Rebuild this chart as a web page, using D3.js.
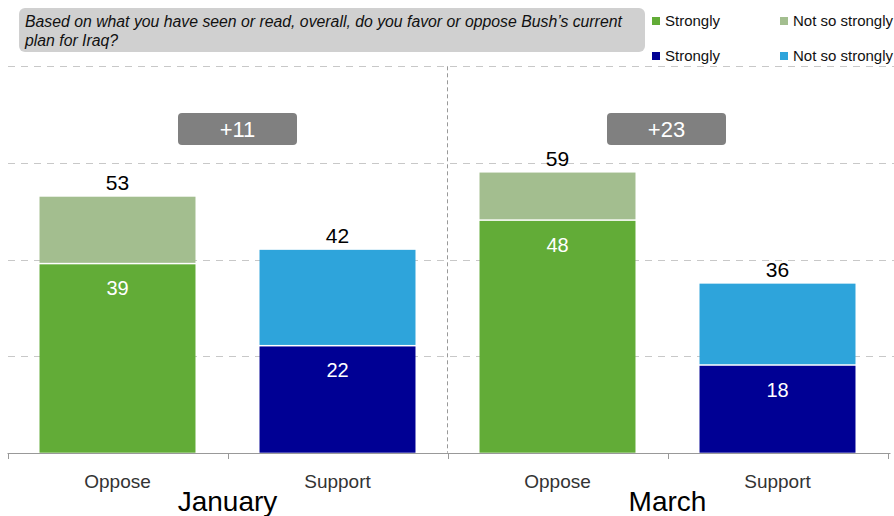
<!DOCTYPE html>
<html><head><meta charset="utf-8">
<script src="https://cdn.jsdelivr.net/npm/d3@7"></script>
<style>body{margin:0;background:#fff}svg{display:block}text{font-family:"Liberation Sans",Arial,sans-serif}</style>
</head><body><svg id="c" width="894" height="516"></svg>
<script>
const categories = ["Jan-Oppose","Jan-Support","Mar-Oppose","Mar-Support"];
const catLabels = ["Oppose","Support","Oppose","Support"];
const periods = ["January","March"];
const strongly = [39,22,48,18];
const notSo = [14,20,10,17];
const totals = [53,42,59,36];
const diffs = ["+11","+23"];
const yTicks = [20,40,60,80];
const legendLabels = ["Strongly","Not so strongly","Strongly","Not so strongly"];
const title = ["Based on what you have seen or read, overall, do you favor or oppose Bush\u2019s current","plan for Iraq?"];

const colStrong = ["#62ac37","#000094","#62ac37","#000094"];
const colNot = ["#a3be8f","#2ea4db","#a3be8f","#2ea4db"];

const svg = d3.select("#c");
const y = d3.scaleLinear().domain([0,80]).range([452.7,66.3]);
const x = d3.scaleBand().domain(categories).range([7.5,887.5]).paddingInner(0.291).paddingOuter(0.1455);

// gridlines
svg.selectAll(".grid").data(yTicks).join("line")
  .attr("x1",8).attr("x2",894).attr("y1",d=>Math.round(y(d))+0.5).attr("y2",d=>Math.round(y(d))+0.5)
  .attr("stroke","#c8c8c8").attr("stroke-width",1).attr("stroke-dasharray","7,6");

// separator
const sepX = x.range()[0] + x.step()*2;
svg.append("line").attr("x1",sepX).attr("x2",sepX).attr("y1",y(80)).attr("y2",y(0))
  .attr("stroke","#999").attr("stroke-dasharray","4,3");

// bars
categories.forEach((c,i)=>{
  const top = strongly[i]+notSo[i];
  svg.append("rect").attr("x",x(c)).attr("width",x.bandwidth())
    .attr("y",y(strongly[i])).attr("height",y(0)-y(strongly[i])).attr("fill",colStrong[i]);
  svg.append("rect").attr("x",x(c)).attr("width",x.bandwidth())
    .attr("y",y(top)).attr("height",y(strongly[i])-y(top)-1.5).attr("fill",colNot[i]);
  svg.append("text").attr("x",x(c)+x.bandwidth()/2).attr("y",y(top)-6.5)
    .attr("text-anchor","middle").attr("font-size",21).attr("fill","#000").text(totals[i]);
  svg.append("text").attr("x",x(c)+x.bandwidth()/2).attr("y",y(strongly[i])+31)
    .attr("text-anchor","middle").attr("font-size",20).attr("fill","#fff").text(strongly[i]);
});

// axis
const axisG = svg.append("g");
axisG.append("line").attr("x1",x.range()[0]).attr("x2",x.range()[1]+3).attr("y1",453.5).attr("y2",453.5).attr("stroke","#999");
d3.range(5).forEach(k=>{
  const tx = Math.round(x.range()[0] + k*x.step())+0.5;
  axisG.append("line").attr("x1",tx).attr("x2",tx).attr("y1",453).attr("y2",459).attr("stroke","#999");
});
categories.forEach((c,i)=>{
  svg.append("text").attr("x",x(c)+x.bandwidth()/2).attr("y",488).attr("text-anchor","middle")
    .attr("font-size",19).attr("fill","#333").text(catLabels[i]);
});
const boxOffset = [10,-1];
periods.forEach((p,k)=>{
  const cx = x.range()[0] + x.step()*(2*k+1);
  svg.append("text").attr("x",cx).attr("y",511).attr("text-anchor","middle")
    .attr("font-size",28).attr("fill","#000").text(p);
  const bc = cx + boxOffset[k];
  svg.append("rect").attr("x",bc-59.5).attr("y",113).attr("width",119).attr("height",32).attr("rx",4)
    .attr("fill","#808080");
  svg.append("text").attr("x",bc).attr("y",137).attr("text-anchor","middle")
    .attr("font-size",22).attr("fill","#fff").text(diffs[k]);
});

// title box
svg.append("rect").attr("x",19).attr("y",8).attr("width",626).attr("height",44).attr("rx",6).attr("fill","#d0d0d0");
title.forEach((t,i)=>{
  svg.append("text").attr("x",25).attr("y",27+i*19).attr("font-size",15.8).attr("font-style","italic")
    .attr("fill","#111").text(t);
});

// legend
const legCols = [colStrong[0],colNot[0],colStrong[1],colNot[1]];
legendLabels.forEach((l,i)=>{
  const lx = i%2===0 ? 652 : 780;
  const ly = i<2 ? 21 : 56;
  svg.append("rect").attr("x",lx).attr("y",ly-4).attr("width",8).attr("height",8).attr("fill",legCols[i]);
  svg.append("text").attr("x",lx+13).attr("y",ly+5).attr("font-size",15).attr("fill","#111").text(l);
});
</script></body></html>
